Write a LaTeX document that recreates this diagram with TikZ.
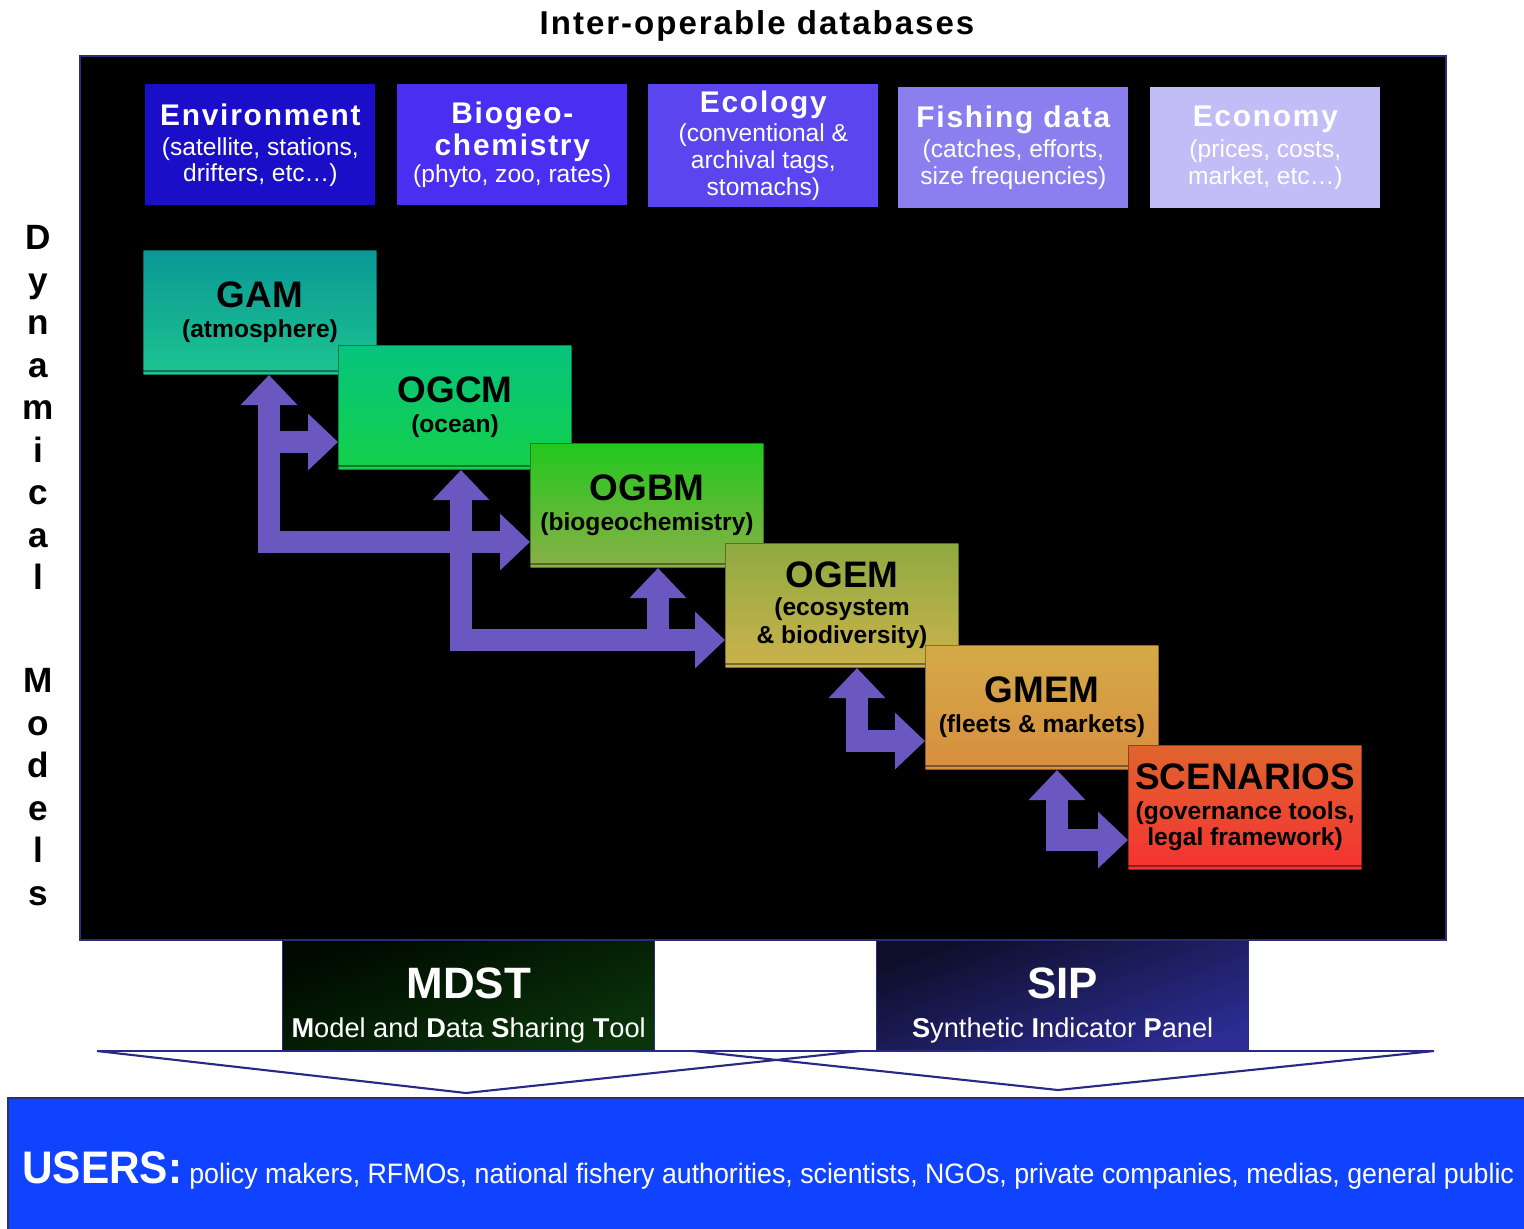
\documentclass[tikz,border=0pt]{standalone}
\usepackage{fontspec}
\usepackage{graphicx}
\setmainfont{Liberation Sans}
\newfontfamily\spacedfont[LetterSpace=6]{Liberation Sans}
\usetikzlibrary{arrows.meta,calc}

% data-source colours
\definecolor{envc}{HTML}{1A0EC8}
\definecolor{bioc}{HTML}{4A2EF2}
\definecolor{ecoc}{HTML}{5A45EE}
\definecolor{fishc}{HTML}{8B7FF0}
\definecolor{econc}{HTML}{C3BDF7}
% model colours (top-left / bottom-right)
\definecolor{gamA}{HTML}{0A9896}
\definecolor{gamB}{HTML}{1DC490}
\definecolor{ogcmA}{HTML}{06C47E}
\definecolor{ogcmB}{HTML}{14D04A}
\definecolor{ogbmA}{HTML}{22C81E}
\definecolor{ogbmB}{HTML}{8AB046}
\definecolor{ogemA}{HTML}{8EAA40}
\definecolor{ogemB}{HTML}{CCB24C}
\definecolor{gmemA}{HTML}{D4AA48}
\definecolor{gmemB}{HTML}{D88E3E}
\definecolor{scenA}{HTML}{E0642E}
\definecolor{scenB}{HTML}{F53232}
% connectors, frames, tools
\definecolor{arrowc}{HTML}{6A58C0}
\definecolor{navy}{HTML}{2C2C78}
\definecolor{usersc}{HTML}{1043FF}
\definecolor{mdstA}{HTML}{000A00}
\definecolor{mdstB}{HTML}{0A340A}
\definecolor{sipA}{HTML}{0E0E2A}
\definecolor{sipB}{HTML}{2C2C92}

\newcommand\dbhead[1]{{\fontsize{17}{20}\selectfont\spacedfont\bfseries #1}}
\newcommand\modhead[1]{{\fontsize{21}{24}\selectfont #1}}

\begin{document}
\begin{tikzpicture}[x=0.02cm, y=-0.02cm,
  dbbox/.style={anchor=north west, minimum width=4.6cm, minimum height=2.42cm,
    inner sep=0pt, align=center, text=white,
    font=\fontsize{14}{15.4}\selectfont},
  modbox/.style={anchor=north west, minimum width=4.66cm, minimum height=2.48cm,
    inner sep=0pt, align=center, text=black, draw=black, draw opacity=0.35,
    line width=0.6pt, shading angle=45,
    font=\bfseries\fontsize{14}{17}\selectfont},
  modbase/.style={draw=black, opacity=0.4, line width=1.2pt},
  flow/.style={draw=arrowc, line width=0.44cm, line join=miter,
    {Triangle[length=0.6cm,width=1.1cm]}-{Triangle[length=0.6cm,width=1.1cm]}},
  flowend/.style={draw=arrowc, line width=0.44cm,
    -{Triangle[length=0.6cm,width=1.1cm]}},
  toolbox/.style={anchor=north west, minimum width=7.44cm, minimum height=2.2cm,
    inner sep=0pt, draw=navy, line width=0.8pt},
  tooltext/.style={inner sep=0pt, align=center, text=white,
    font=\fontsize{15.5}{22}\selectfont},
  vletters/.style={anchor=north, inner sep=0pt, align=center,
    font=\bfseries\fontsize{20}{24.2}\selectfont},
  chev/.style={draw=navy!90!blue, line width=1.2pt, line join=miter}
]
\useasboundingbox (0,0) rectangle (1524,1228);
\fill[white] (0,0) rectangle (1524,1228);

% heading
\node[anchor=base, inner sep=0pt, font=\spacedfont\bfseries\fontsize{18.8}{20}\selectfont]
  (title) at (757,34) {Inter-operable databases};

% black model panel
\filldraw[fill=black, draw=navy, line width=1.2pt] (80,56) rectangle (1446,940);

% side label
\node[vletters] (dyn) at (38,225) {D\\y\\n\\a\\m\\i\\c\\a\\l};
\node[vletters] (mod) at (38,668) {M\\o\\d\\e\\l\\s};

% data sources
\node[dbbox, fill=envc] (env) at (145,84)
  {\dbhead{Environment}\\[2pt] (satellite, stations,\\[-1pt] drifters, etc\ldots)};
\node[dbbox, fill=bioc] (bio) at (397,84)
  {\dbhead{Biogeo-}\\[1pt]\dbhead{chemistry}\\[0pt] (phyto, zoo, rates)};
\node[dbbox, fill=ecoc, minimum height=2.46cm] (eco) at (648,84)
  {\dbhead{Ecology}\\[1pt] (conventional \&\\ archival tags,\\ stomachs)};
\node[dbbox, fill=fishc] (fish) at (898,87)
  {\dbhead{Fishing data}\\[2pt] (catches, efforts,\\ size frequencies)};
\node[dbbox, fill=econc] (econ) at (1150,87)
  {\dbhead{Economy}\\[2pt] (prices, costs,\\ market, etc\ldots)};

% model chain
\node[modbox, top color=gamA, bottom color=gamB] (gam) at (143,250)
  {\modhead{GAM}\\ (atmosphere)};
\draw[modbase] ([yshift=2.5pt]gam.south west) -- ([yshift=2.5pt]gam.south east);
\node[modbox, top color=ogcmA, bottom color=ogcmB] (ogcm) at (338,345)
  {\modhead{OGCM}\\ (ocean)};
\draw[modbase] ([yshift=2.5pt]ogcm.south west) -- ([yshift=2.5pt]ogcm.south east);
\node[modbox, top color=ogbmA, bottom color=ogbmB] (ogbm) at (530,443)
  {\modhead{OGBM}\\ (biogeochemistry)};
\draw[modbase] ([yshift=2.5pt]ogbm.south west) -- ([yshift=2.5pt]ogbm.south east);
\node[modbox, top color=ogemA, bottom color=ogemB] (ogem) at (725,543)
  {\modhead{OGEM}\\[-1pt] (ecosystem\\[-1pt] \& biodiversity)};
\draw[modbase] ([yshift=2.5pt]ogem.south west) -- ([yshift=2.5pt]ogem.south east);
\node[modbox, top color=gmemA, bottom color=gmemB] (gmem) at (925,645)
  {\modhead{GMEM}\\ (fleets \& markets)};
\draw[modbase] ([yshift=2.5pt]gmem.south west) -- ([yshift=2.5pt]gmem.south east);
\node[modbox, top color=scenA, bottom color=scenB] (scen) at (1128,745)
  {\modhead{SCENARIOS}\\[0pt] (governance tools,\\[-2pt] legal framework)};
\draw[modbase] ([yshift=2.5pt]scen.south west) -- ([yshift=2.5pt]scen.south east);

% coupling arrows
\coordinate (j1) at (269,542);
\coordinate (j1b) at (269,442);
\coordinate (j2) at (461,640);
\coordinate (j3) at (658,640);
\coordinate (j4) at (857,741);
\coordinate (j5) at (1057,840);
\draw[flowend] (j1b) -- (ogcm.west |- j1b);
\draw[flow] (gam.south -| j1) |- (ogbm.west |- j1);
\draw[flowend] (j3) -- (ogbm.south -| j3);
\draw[flow] (ogcm.south -| j2) |- (ogem.west |- j2);
\draw[flow] (ogem.south -| j4) |- (gmem.west |- j4);
\draw[flow] (gmem.south -| j5) |- (scen.west |- j5);

% tools
\node[toolbox, top color=mdstA, bottom color=mdstB, shading angle=20] (mdst) at (282,940) {};
\node[tooltext] (mdsttxt) at ([yshift=-0.2cm]mdst.center)
  {{\bfseries\fontsize{25}{26}\selectfont MDST}\\
   \textbf{M}odel and \textbf{D}ata \textbf{S}haring \textbf{T}ool};
\node[toolbox, top color=sipA, bottom color=sipB, shading angle=20] (sip) at (876,940) {};
\node[tooltext] (siptxt) at ([yshift=-0.2cm]sip.center)
  {{\bfseries\fontsize{25}{26}\selectfont SIP}\\
   \textbf{S}ynthetic \textbf{I}ndicator \textbf{P}anel};

% funnels down to the users
\draw[chev] (97,1051) -- (1434,1051);
\draw[chev] (97,1051) -- (466,1093) -- (860,1051);
\draw[chev] (693,1051) -- (1058,1090) -- (1434,1051);

% users band
\filldraw[fill=usersc, draw=navy, line width=1.2pt] (8,1098) rectangle (1540,1240);
\node[anchor=base west, inner sep=0pt, text=white] (users) at (22,1183)
  {\resizebox{3.2cm}{\height}{\bfseries\fontsize{26}{28}\selectfont USERS:}\hspace{0.14cm}%
   \resizebox{26.5cm}{\height}{\fontsize{16}{18}\selectfont policy makers, RFMOs, national fishery authorities, scientists, NGOs, private companies, medias, general public}};
\end{tikzpicture}
\end{document}
